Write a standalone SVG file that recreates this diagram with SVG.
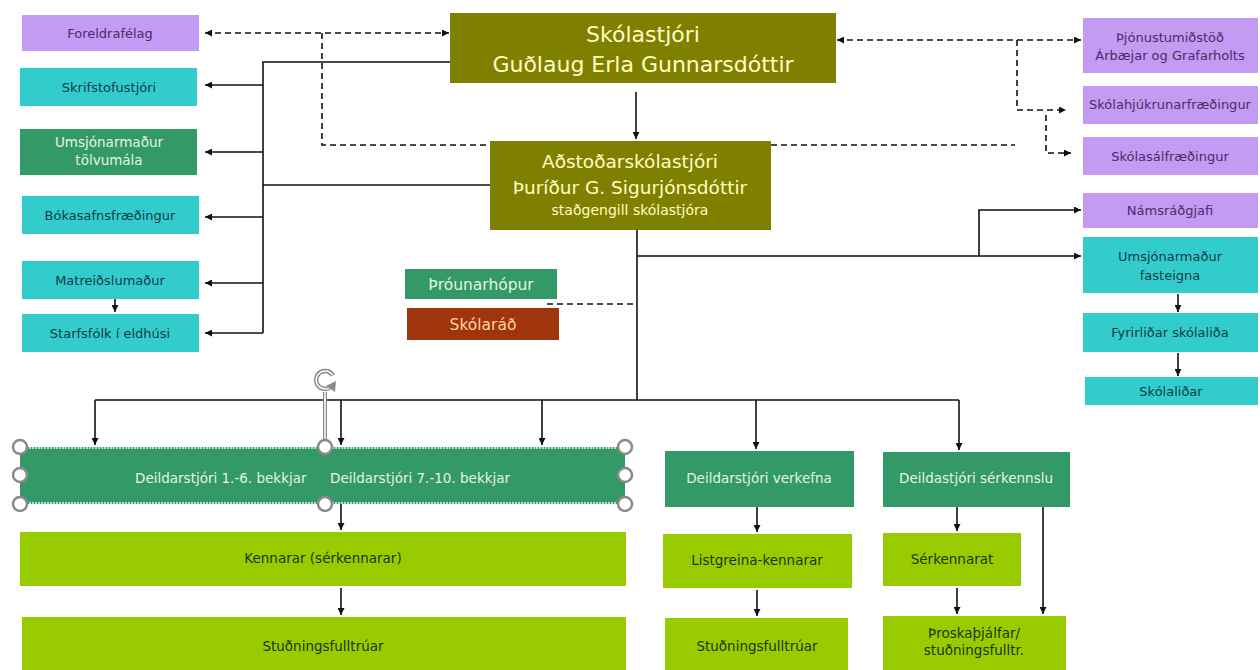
<svg xmlns="http://www.w3.org/2000/svg" width="1260" height="670" viewBox="0 0 1260 670">
<defs>
<marker id="ah" viewBox="0 0 8 8" refX="8" refY="4" markerWidth="7" markerHeight="7" markerUnits="userSpaceOnUse" orient="auto-start-reverse"><path d="M0,0 L8,4 L0,8 z" fill="#111"/></marker>
<style>
text{font-family:"DejaVu Sans","Liberation Sans",Arial,sans-serif;text-anchor:middle}
.purple{fill:#c49bf2}.teal{fill:#33cccc}.dg{fill:#339966}.olive{fill:#808000}.lime{fill:#99cc00}.red{fill:#a0350c}
.tp{fill:#4a2a6a;font-size:13px}.tt{fill:#123c48;font-size:13px}.tg{fill:#e4f5e4;font-size:13.5px}.tl{fill:#253300;font-size:13.5px}
.to{fill:#ffffc4}
.ln{fill:none;stroke:#111;stroke-width:1.6}
.da{fill:none;stroke:#111;stroke-width:1.6;stroke-dasharray:6,4}
.hd{fill:#fff;stroke:#8a8a8a;stroke-width:2.5}
</style>
</defs>
<rect width="1260" height="670" fill="#fff"/>

<g id="connectors">
<path class="ln" d="M636,92 V139" marker-end="url(#ah)"/>
<path class="ln" d="M450,62 H263 V333"/>
<path class="ln" d="M490,185 H263"/>
<path class="ln" d="M263,85 H205" marker-end="url(#ah)"/>
<path class="ln" d="M263,152 H205" marker-end="url(#ah)"/>
<path class="ln" d="M263,217 H205" marker-end="url(#ah)"/>
<path class="ln" d="M263,283 H205" marker-end="url(#ah)"/>
<path class="ln" d="M263,333 H205" marker-end="url(#ah)"/>
<path class="ln" d="M115,299 V312" marker-end="url(#ah)"/>
<path class="ln" d="M637,230 V400"/>
<path class="ln" d="M95,400 H959"/>
<path class="ln" d="M95,400 V445" marker-end="url(#ah)"/>
<path class="ln" d="M341,400 V445" marker-end="url(#ah)"/>
<path class="ln" d="M542,400 V445" marker-end="url(#ah)"/>
<path class="ln" d="M756,400 V449" marker-end="url(#ah)"/>
<path class="ln" d="M959,400 V450" marker-end="url(#ah)"/>
<path class="ln" d="M341,504 V530" marker-end="url(#ah)"/>
<path class="ln" d="M341,588 V615" marker-end="url(#ah)"/>
<path class="ln" d="M757,507 V532" marker-end="url(#ah)"/>
<path class="ln" d="M757,590 V616" marker-end="url(#ah)"/>
<path class="ln" d="M957,507 V531" marker-end="url(#ah)"/>
<path class="ln" d="M957,588 V614" marker-end="url(#ah)"/>
<path class="ln" d="M1043,507 V614" marker-end="url(#ah)"/>
<path class="ln" d="M637,256 H1081" marker-end="url(#ah)"/>
<path class="ln" d="M979,256 V210 H1081" marker-end="url(#ah)"/>
<path class="ln" d="M1178,294 V312" marker-end="url(#ah)"/>
<path class="ln" d="M1178,353 V376" marker-end="url(#ah)"/>
<path class="da" d="M205,33 H449" marker-start="url(#ah)" marker-end="url(#ah)"/>
<path class="da" d="M322,33 V145 H490"/>
<path class="da" d="M771,145 H1015"/>
<path class="da" d="M837,40 H1081" marker-start="url(#ah)" marker-end="url(#ah)"/>
<path class="da" d="M1017,40 V110 H1066" marker-end="url(#ah)"/>
<path class="da" d="M1046,115 V153 H1071" marker-end="url(#ah)"/>
<path class="da" d="M547,304 H637"/>
</g>

<g id="skolastjori"><rect class="olive" x="450" y="13" width="386" height="70"/>
<text class="to" x="643" y="42" font-size="22">Skólastjóri</text>
<text class="to" x="643" y="72" font-size="22">Guðlaug Erla Gunnarsdóttir</text></g>

<g id="adstodar"><rect class="olive" x="490" y="141" width="281" height="89"/>
<text class="to" x="630" y="168" font-size="18.5">Aðstoðarskólastjóri</text>
<text class="to" x="630" y="194" font-size="18.5">Þuríður G. Sigurjónsdóttir</text>
<text class="to" x="630" y="215" font-size="14">staðgengill skólastjóra</text></g>

<g id="foreldrafelag"><rect class="purple" x="22" y="15" width="177" height="36"/><text class="tp" x="110" y="38">Foreldrafélag</text></g>
<g id="skrifstofustjori"><rect class="teal" x="20" y="68" width="177" height="38"/><text class="tt" x="109" y="92">Skrifstofustjóri</text></g>
<g id="tolvumal"><rect class="dg" x="20" y="129" width="177" height="46"/><text class="tg" x="109" y="147" font-size="13">Umsjónarmaður</text><text class="tg" x="109" y="165" font-size="13">tölvumála</text></g>
<g id="bokasafn"><rect class="teal" x="22" y="196" width="177" height="38"/><text class="tt" x="110" y="220">Bókasafnsfræðingur</text></g>
<g id="matreidsla"><rect class="teal" x="22" y="261" width="177" height="38"/><text class="tt" x="110" y="285">Matreiðslumaður</text></g>
<g id="eldhus"><rect class="teal" x="22" y="314" width="177" height="38"/><text class="tt" x="110" y="338">Starfsfólk í eldhúsi</text></g>

<g id="throunarhopur"><rect class="dg" x="405" y="269" width="152" height="30"/><text x="481" y="290" font-size="15.5" fill="#e4f5e4">Þróunarhópur</text></g>
<g id="skolarad"><rect class="red" x="407" y="308" width="152" height="32"/><text x="483" y="330" font-size="15.5" fill="#ffd3a8">Skólaráð</text></g>

<g id="thjonustumidstod"><rect class="purple" x="1083" y="18" width="175" height="55"/><text class="tp" x="1170" y="42" font-size="12">Þjónustumiðstöð</text><text class="tp" x="1170" y="60" font-size="12">Árbæjar og Grafarholts</text></g>
<g id="skolahjukrun"><rect class="purple" x="1083" y="86" width="175" height="38"/><text class="tp" x="1170" y="109" font-size="11">Skólahjúkrunarfræðingur</text></g>
<g id="skolasalfr"><rect class="purple" x="1083" y="137" width="175" height="38"/><text class="tp" x="1170" y="161">Skólasálfræðingur</text></g>
<g id="namsradgjafi"><rect class="purple" x="1083" y="193" width="175" height="35"/><text class="tp" x="1170" y="215">Námsráðgjafi</text></g>
<g id="fasteigna"><rect class="teal" x="1083" y="237" width="175" height="56"/><text class="tt" x="1170" y="261">Umsjónarmaður</text><text class="tt" x="1170" y="280">fasteigna</text></g>
<g id="fyrirlidar"><rect class="teal" x="1083" y="313" width="175" height="39"/><text class="tt" x="1170" y="337">Fyrirliðar skólaliða</text></g>
<g id="skolalidar"><rect class="teal" x="1085" y="377" width="173" height="28"/><text class="tt" x="1171" y="396">Skólaliðar</text></g>

<g id="deildarstjorar">
<rect class="dg" x="20" y="447" width="605" height="57"/>
<line x1="20" y1="448" x2="625" y2="448" stroke="#e6f4e6" stroke-width="1.5" stroke-dasharray="2,1"/>
<line x1="20" y1="503" x2="625" y2="503" stroke="#e6f4e6" stroke-width="1.5" stroke-dasharray="2,1"/>
<text class="tg" x="135" y="483" style="text-anchor:start">Deildarstjóri 1.-6. bekkjar</text>
<text class="tg" x="330" y="483" style="text-anchor:start">Deildarstjóri 7.-10. bekkjar</text>
<line x1="325" y1="392" x2="325" y2="440" stroke="#8a8a8a" stroke-width="4"/>
<line x1="325" y1="392" x2="325" y2="440" stroke="#fff" stroke-width="1.5"/>
<circle class="hd" cx="20" cy="447" r="7"/><circle class="hd" cx="20" cy="475" r="7"/><circle class="hd" cx="20" cy="504" r="7"/>
<circle class="hd" cx="325" cy="447" r="7"/><circle class="hd" cx="325" cy="504" r="7"/>
<circle class="hd" cx="625" cy="447" r="7"/><circle class="hd" cx="625" cy="475" r="7"/><circle class="hd" cx="625" cy="504" r="7"/>
<path d="M333,375.5 A9,9 0 1 0 329.5,387.8" fill="none" stroke="#8a8a8a" stroke-width="4.5"/>
<path d="M333,375.5 A9,9 0 1 0 329.5,387.8" fill="none" stroke="#fff" stroke-width="1.5"/>
<path d="M326,386 L336,381 L335,392 z" fill="#8a8a8a"/>
</g>

<g id="kennarar"><rect class="lime" x="20" y="532" width="606" height="54"/><text class="tl" x="323" y="563">Kennarar (sérkennarar)</text></g>
<g id="studningsfulltruar1"><rect class="lime" x="22" y="617" width="604" height="53"/><text class="tl" x="323" y="651">Stuðningsfulltrúar</text></g>

<g id="verkefna"><rect class="dg" x="665" y="451" width="189" height="56"/><text class="tg" x="759" y="483">Deildarstjóri verkefna</text></g>
<g id="listgreina"><rect class="lime" x="663" y="534" width="189" height="54"/><text class="tl" x="757" y="565">Listgreina-kennarar</text></g>
<g id="studningsfulltruar2"><rect class="lime" x="665" y="618" width="183" height="52"/><text class="tl" x="757" y="651">Stuðningsfulltrúar</text></g>

<g id="serkennslu"><rect class="dg" x="883" y="452" width="187" height="55"/><text class="tg" x="976" y="483">Deildastjóri sérkennslu</text></g>
<g id="serkennarat"><rect class="lime" x="883" y="533" width="138" height="53"/><text class="tl" x="952" y="564">Sérkennarat</text></g>
<g id="throskathjalfar"><rect class="lime" x="883" y="616" width="183" height="54"/><text class="tl" x="974" y="638">Þroskaþjálfar/</text><text class="tl" x="974" y="655">stuðningsfulltr.</text></g>
</svg>
